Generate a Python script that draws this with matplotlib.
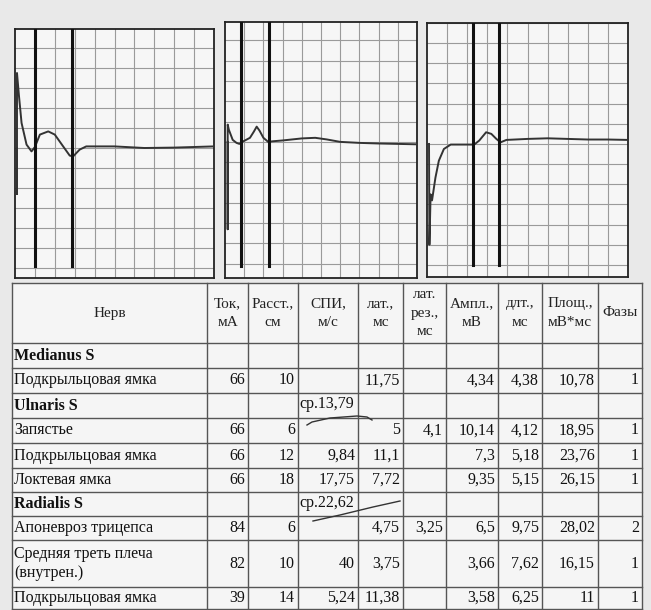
import matplotlib.pyplot as plt

# --- кривые (x, y в делениях сетки) ---
p1_x = [0.1, 0.1, 0.1, 0.2, 0.33, 0.58, 0.83, 1.0, 1.25, 1.67, 2.0, 2.42, 2.75, 2.92, 3.25, 3.58, 5.0, 6.5, 8.0, 10.0]
p1_y = [0.0, -2.3, 3.75, 2.6, 1.25, 0.17, -0.17, 0.05, 0.67, 0.83, 0.67, 0.08, -0.38, -0.42, -0.08, 0.08, 0.08, 0.0, 0.02, 0.08]
p1_markers = [1.0, 2.88]

p2_x = [0.14, 0.14, 0.14, 0.2, 0.4, 0.6, 0.75, 0.9, 1.1, 1.3, 1.5, 1.65, 1.8, 2.0, 2.25, 2.5, 3.0, 3.5, 4.0, 4.7, 5.3, 6.0, 7.0, 8.0, 9.0, 10.0]
p2_y = [0.0, -4.3, 0.85, 0.6, 0.1, -0.05, -0.1, 0.0, 0.1, 0.2, 0.5, 0.75, 0.55, 0.2, 0.0, 0.03, 0.07, 0.12, 0.17, 0.2, 0.12, 0.0, -0.05, -0.08, -0.1, -0.12]
p2_markers = [0.83, 2.3]

p3_x = [0.1, 0.12, 0.18, 0.25, 0.42, 0.59, 0.84, 1.18, 2.35, 2.6, 2.94, 3.2, 3.45, 3.66, 3.95, 5.0, 6.0, 7.0, 8.0, 9.0, 10.0]
p3_y = [0.0, -5.0, -2.5, -2.8, -1.67, -0.83, -0.25, -0.03, -0.03, 0.17, 0.58, 0.5, 0.25, 0.08, 0.2, 0.25, 0.28, 0.25, 0.22, 0.22, 0.2]
p3_markers = [2.3, 3.6]

# --- таблица ---
headers = ["Нерв", "Ток,\nмА", "Расст.,\nсм", "СПИ,\nм/с", "лат.,\nмс", "лат.\nрез.,\nмс",
           "Ампл.,\nмВ", "длт.,\nмс", "Площ.,\nмВ*мс", "Фазы"]
nerves = ["Medianus S", "Подкрыльцовая ямка", "Ulnaris S", "Запястье", "Подкрыльцовая ямка",
          "Локтевая ямка", "Radialis S", "Апоневроз трицепса", "Средняя треть плеча\n(внутрен.)",
          "Подкрыльцовая ямка"]
bold_rows = [0, 2, 6]
tok = ["", "66", "", "66", "66", "66", "", "84", "82", "39"]
rasst = ["", "10", "", "6", "12", "18", "", "6", "10", "14"]
spi = ["", "", "ср.13,79", "", "9,84", "17,75", "ср.22,62", "", "40", "5,24"]
lat = ["", "11,75", "", "5", "11,1", "7,72", "", "4,75", "3,75", "11,38"]
lat_rez = ["", "", "", "4,1", "", "", "", "3,25", "", ""]
ampl = ["", "4,34", "", "10,14", "7,3", "9,35", "", "6,5", "3,66", "3,58"]
dlt = ["", "4,38", "", "4,12", "5,18", "5,15", "", "9,75", "7,62", "6,25"]
plosh = ["", "10,78", "", "18,95", "23,76", "26,15", "", "28,02", "16,15", "11"]
fazy = ["", "1", "", "1", "1", "1", "", "2", "1", "1"]

W, H = 651, 610
fig = plt.figure(figsize=(W / 100, H / 100), dpi=100, facecolor='#e9e9e9')

# фон/таблица в пиксельных координатах
bg = fig.add_axes([0, 0, 1, 1])
bg.set_xlim(0, W)
bg.set_ylim(H, 0)
bg.axis('off')

col_edges = [12, 207, 248, 298, 358, 403, 446, 498, 542, 598, 642]
row_edges = [283, 343, 368, 393, 418, 443, 468, 492, 516, 540, 587, 609]

bg.add_patch(plt.Rectangle((col_edges[0], row_edges[0]), col_edges[-1] - col_edges[0],
                           row_edges[-1] - row_edges[0], facecolor='#f5f5f5', edgecolor='none'))
for xe in col_edges:
    bg.plot([xe, xe], [row_edges[0], row_edges[-1]], color='#555555', lw=1.0)
for ye in row_edges:
    bg.plot([col_edges[0], col_edges[-1]], [ye, ye], color='#555555', lw=1.0)

serif = ['Liberation Serif', 'DejaVu Serif']
for i, h in enumerate(headers):
    cx = (col_edges[i] + col_edges[i + 1]) / 2
    cy = (row_edges[0] + row_edges[1]) / 2
    bg.text(cx, cy, h, ha='center', va='center', family=serif, fontsize=11, color='#222222',
            linespacing=1.55)

columns = [tok, rasst, spi, lat, lat_rez, ampl, dlt, plosh, fazy]
for r in range(len(nerves)):
    y0, y1 = row_edges[r + 1], row_edges[r + 2]
    cy = (y0 + y1) / 2
    bg.text(col_edges[0] + 2, cy, nerves[r], ha='left', va='center', family=serif,
            fontsize=11.5, color='#111111', linespacing=1.2,
            fontweight='bold' if r in bold_rows else 'normal')
    for c, vals in enumerate(columns):
        v = vals[r]
        if not v:
            continue
        if v.startswith('ср.'):
            bg.text(col_edges[c + 1] + 1, cy - 1, v, ha='left', va='center', family=serif,
                    fontsize=11.5, color='#111111')
        else:
            bg.text(col_edges[c + 2] - 3, cy, v, ha='right', va='center', family=serif,
                    fontsize=11.5, color='#111111')

# рукописные дуги под "ср."
bg.plot([307, 312, 330, 357, 367, 372], [425, 422, 418, 416, 417, 420], color='#333333', lw=1.0)
bg.plot([313, 340, 373, 400], [521, 515, 507, 501], color='#333333', lw=1.0)

# --- панели с кривыми ---
panels = [
    ([15, 214, 29, 278], p1_x, p1_y, p1_markers, (-6.5, 5.95)),
    ([225, 417, 22, 278], p2_x, p2_y, p2_markers, (-6.7, 5.9)),
    ([427, 628, 23, 277], p3_x, p3_y, p3_markers, (-6.6, 6.0)),
]
for (l, r, t, b), xs, ys, marks, ylim in panels:
    ax = fig.add_axes([l / W, (H - b) / H, (r - l) / W, (b - t) / H])
    ax.set_facecolor('#f6f6f6')
    ax.set_xlim(0, 10)
    ax.set_ylim(*ylim)
    for gx in range(1, 10):
        ax.axvline(gx, color='#9a9a9a', lw=0.8, zorder=1)
    for gy in range(int(ylim[0]), int(ylim[1]) + 1):
        ax.axhline(gy, color='#9a9a9a', lw=0.8, zorder=1)
    ax.plot(xs, ys, color='#333333', lw=1.4, zorder=3)
    for m in marks:
        ax.plot([m, m], [ylim[0] + 0.6, ylim[1]], color='#111111', lw=2.2, zorder=4)
    ax.set_xticks([])
    ax.set_yticks([])
    for s in ax.spines.values():
        s.set_color('#222222')
        s.set_linewidth(1.3)

fig.savefig('out.png', dpi=100, facecolor=fig.get_facecolor())
